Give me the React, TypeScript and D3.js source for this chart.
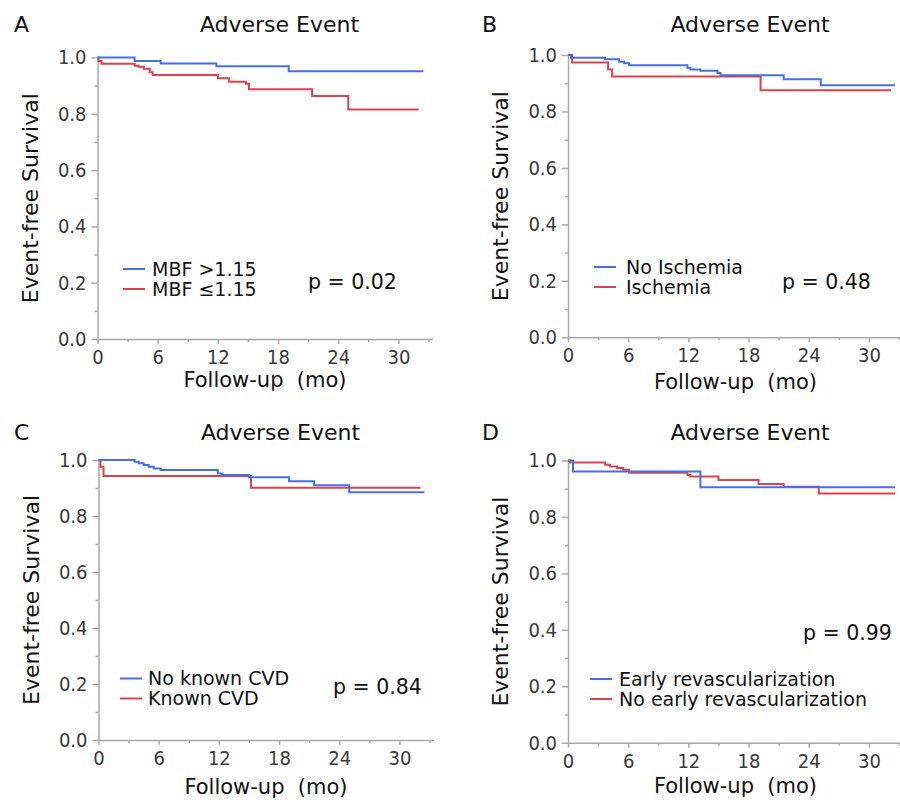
import React, { useEffect, useRef } from "react";
import * as d3 from "d3";

// axis ticks
const xTicks = [0, 6, 12, 18, 24, 30];
const xMinorTicks = [3, 9, 15, 21, 27, 33];
const yTicks = [0, 0.2, 0.4, 0.6, 0.8, 1.0];
const yMinorTicks = [0.1, 0.3, 0.5, 0.7, 0.9];
const xMax = 33.4;

// Panel A: MBF >1.15 (blue) vs MBF <=1.15 (red)
const aBlueT = [0, 3.7, 6.3, 11.85, 19.06, 32.5];
const aBlueS = [1, 0.988, 0.979, 0.969, 0.951, 0.951];
const aRedT = [0, 0.1, 0.4, 3.7, 4.1, 4.6, 5.2, 5.5, 12.0, 13.1, 14.8, 15.1, 21.4, 25.0, 32.0];
const aRedS = [1, 0.988, 0.978, 0.971, 0.967, 0.96, 0.948, 0.938, 0.926, 0.914, 0.907, 0.887, 0.863, 0.815, 0.815];

// Panel B: No Ischemia (blue) vs Ischemia (red)
const bBlueT = [0, 0.3, 3.7, 5.1, 5.6, 6.1, 11.9, 12.2, 13.2, 14.9, 15.2, 21.5, 25.2, 32.6];
const bBlueS = [1, 0.99, 0.985, 0.976, 0.971, 0.964, 0.955, 0.949, 0.944, 0.936, 0.928, 0.914, 0.893, 0.893];
const bRedT = [0, 0.4, 4.0, 4.4, 19.2, 32.2];
const bRedS = [1, 0.973, 0.949, 0.924, 0.875, 0.875];

// Panel C: No known CVD (blue) vs Known CVD (red)
const cBlueT = [0, 3.6, 4.0, 4.5, 5.0, 5.5, 6.2, 11.9, 12.3, 15.0, 19.0, 21.5, 25.0, 32.5];
const cBlueS = [1, 0.994, 0.988, 0.982, 0.976, 0.97, 0.964, 0.952, 0.946, 0.938, 0.924, 0.91, 0.885, 0.885];
const cRedT = [0, 0.2, 0.5, 15.2, 32.1];
const cRedS = [1, 0.976, 0.943, 0.901, 0.901];

// Panel D: Early revascularization (blue) vs No early revascularization (red)
const dBlueT = [0, 0.5, 13.2, 32.6];
const dBlueS = [1, 0.961, 0.905, 0.905];
const dRedT = [0, 0.2, 3.7, 4.2, 4.9, 5.5, 6.1, 11.9, 12.2, 15.0, 19.0, 21.5, 25.0, 32.6];
const dRedS = [1, 0.993, 0.985, 0.979, 0.973, 0.967, 0.957, 0.949, 0.943, 0.931, 0.917, 0.907, 0.883, 0.883];

const panelLetters = ["A", "B", "C", "D"];
const panelTitle = "Adverse Event";
const yLabel = "Event-free Survival";
const xLabel = "Follow-up\u00a0\u00a0(mo)";
const legendLabels = [
  ["MBF >1.15", "MBF \u22641.15"],
  ["No Ischemia", "Ischemia"],
  ["No known CVD", "Known CVD"],
  ["Early revascularization", "No early revascularization"],
];
const pValues = ["p = 0.02", "p = 0.48", "p = 0.84", "p = 0.99"];

const BLUE = "#4670e0";
const RED = "#da4250";
const FONT = "'DejaVu Sans', Arial, sans-serif";
const TICK_FONT = "'DejaVu Sans Condensed', 'DejaVu Sans', sans-serif";

const layout = [
  { left: 97.5, top: 57.5, bottom: 339, titleY: 32, letterX: 14, xLabelY: 387, lineX: 123, textX: 152, legY: 269, pX: 308, pY: 289 },
  { left: 568, top: 55, bottom: 337.3, titleY: 32, letterX: 482, xLabelY: 389, lineX: 594, textX: 626, legY: 267, pX: 782, pY: 289 },
  { left: 98.5, top: 460, bottom: 740, titleY: 440, letterX: 14, xLabelY: 794, lineX: 120, textX: 148, legY: 678.5, pX: 333, pY: 694 },
  { left: 568, top: 460.5, bottom: 742.7, titleY: 440, letterX: 482, xLabelY: 793, lineX: 590, textX: 619, legY: 679, pX: 803, pY: 640 },
];

const series = [
  [[aBlueT, aBlueS], [aRedT, aRedS]],
  [[bBlueT, bBlueS], [bRedT, bRedS]],
  [[cBlueT, cBlueS], [cRedT, cRedS]],
  [[dBlueT, dBlueS], [dRedT, dRedS]],
];

const App = () => {
  const ref = useRef<SVGSVGElement>(null);

  useEffect(() => {
    const svg = d3.select(ref.current);
    svg.selectAll("*").remove();

    layout.forEach((L, i) => {
      const x = d3.scaleLinear().domain([0, xMax]).range([L.left, L.left + xMax * 10.03]);
      const y = d3.scaleLinear().domain([0, 1]).range([L.bottom, L.top]);
      const g = svg.append("g");

      // minor ticks
      g.append("g")
        .attr("transform", `translate(${L.left},0)`)
        .call(d3.axisLeft(y).tickValues(yMinorTicks).tickSize(3).tickFormat(() => ""))
        .call((a) => a.select(".domain").remove());
      g.append("g")
        .attr("transform", `translate(0,${L.bottom})`)
        .call(d3.axisBottom(x).tickValues(xMinorTicks).tickSize(3).tickFormat(() => ""))
        .call((a) => a.select(".domain").remove());

      // major axes
      g.append("g")
        .attr("transform", `translate(${L.left},0)`)
        .call(d3.axisLeft(y).tickValues(yTicks).tickSize(6).tickSizeOuter(0).tickPadding(5).tickFormat(d3.format(".1f")));
      g.append("g")
        .attr("transform", `translate(0,${L.bottom})`)
        .call(d3.axisBottom(x).tickValues(xTicks).tickSize(5).tickSizeOuter(0).tickPadding(6));

      g.selectAll(".domain, .tick line").attr("stroke", "#a8a8a8").attr("stroke-width", 1.5);
      g.selectAll(".tick text")
        .attr("fill", "#3a3a3a")
        .style("font-family", TICK_FONT)
        .style("font-size", "20px");

      // curves: red first, blue on top
      const line = d3
        .line<[number, number]>()
        .x((d) => x(d[0]))
        .y((d) => y(d[1]))
        .curve(d3.curveStepAfter);
      const [blue, red] = series[i];
      [[red, RED], [blue, BLUE]].forEach(([s, color]: any) => {
        const pts = s[0].map((t: number, k: number) => [t, s[1][k]] as [number, number]);
        g.append("path")
          .attr("d", line(pts))
          .attr("fill", "none")
          .attr("stroke", color)
          .attr("stroke-width", 2);
      });

      // texts
      const text = (tx: number, ty: number, str: string, size: number, anchor = "start") =>
        g.append("text")
          .attr("x", tx)
          .attr("y", ty)
          .attr("text-anchor", anchor)
          .style("font-family", FONT)
          .style("font-size", `${size}px`)
          .attr("fill", "#111")
          .text(str);

      text(L.letterX, L.titleY, panelLetters[i], 22);
      text(L.left + 182, L.titleY, panelTitle, 22, "middle");
      text((x(0) + x(xMax)) / 2, L.xLabelY, xLabel, 21, "middle");
      g.append("text")
        .attr("transform", `translate(${L.left - 60},${(L.top + L.bottom) / 2}) rotate(-90)`)
        .attr("text-anchor", "middle")
        .style("font-family", FONT)
        .style("font-size", "22px")
        .attr("fill", "#111")
        .text(yLabel);

      // legend
      [BLUE, RED].forEach((c, k) => {
        const ly = L.legY + k * 20;
        g.append("line")
          .attr("x1", L.lineX)
          .attr("x2", L.lineX + 22)
          .attr("y1", ly)
          .attr("y2", ly)
          .attr("stroke", c)
          .attr("stroke-width", 2);
        text(L.textX, ly + 6.5, legendLabels[i][k], 19);
      });
      text(L.pX, L.pY, pValues[i], 20.5);
    });
  }, []);

  return (
    <svg
      ref={ref}
      width={900}
      height={800}
      style={{ position: "absolute", left: 0, top: 0, background: "#fff" }}
    ></svg>
  );
};

export default App;
